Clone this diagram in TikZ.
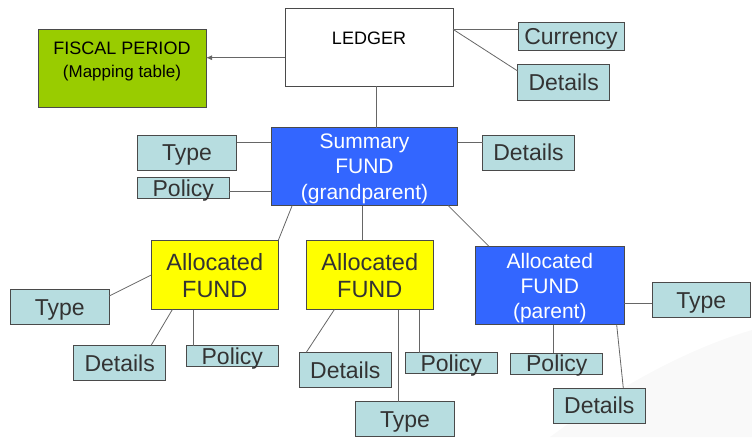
\documentclass[tikz,border=0pt]{standalone}
\usepackage{fontspec}
\setmainfont{Liberation Sans}
\usetikzlibrary{arrows.meta}
\definecolor{fundblue}{HTML}{3366FF}
\definecolor{fundyellow}{HTML}{FFFF00}
\definecolor{fiscalgreen}{HTML}{99CC00}
\definecolor{attrblue}{HTML}{B7DDE0}
\definecolor{edge}{HTML}{4A4A4A}
\tikzset{
  box/.style={draw=edge, line width=0.9pt, inner sep=0pt, outer sep=0pt},
  attr/.style={box, fill=attrblue, text=black!80, font=\fontsize{23}{23}\selectfont, text height=16.5pt, text depth=0pt, minimum width=92, minimum height=35},
  fund/.style={box, align=center, text depth=0pt},
  link/.style={draw=black!60, line width=0.8pt}
}
\begin{document}
\begin{tikzpicture}[x=1pt, y=-1pt]
      \useasboundingbox (0,0) rectangle (752,437);
      \fill[black!2.5] (550,437) .. controls (620,385) and (690,348) .. (752,330) -- (752,437) -- cycle;
      % top level
      \node[box, fill=white, minimum width=168, minimum height=78, label={[yshift=9pt, font=\fontsize{18}{18}\selectfont]center:LEDGER}] (ledger) at (369,47) {};
      \node[box, fill=fiscalgreen, minimum width=168, minimum height=78, label={[yshift=6.5pt, align=center, font=\fontsize{18}{23}\selectfont]center:FISCAL PERIOD\\{\fontsize{17}{23}\selectfont (Mapping table)}}] (fiscal) at (122,68) {};
      \node[attr, minimum width=106, minimum height=28] (currency) at (571,36) {Currency};
      \node[attr, minimum height=36] (ledgerdetails) at (563.7,82) {Details};
      % grandparent
      \node[fund, fill=fundblue, text=white, font=\fontsize{21}{25.5}\selectfont, minimum width=186, minimum height=78] (summary) at (364.5,166.5) {Summary\\FUND\\(grandparent)};
      \node[attr, minimum width=99] (sumtype) at (187,152.7) {Type};
      \node[attr, minimum height=21.7] (sumpolicy) at (183.3,188) {Policy};
      \node[attr] (sumdetails) at (528.5,152.7) {Details};
      % allocated funds
      \node[fund, fill=fundyellow, text=black!80, font=\fontsize{23.5}{27}\selectfont, minimum width=127, minimum height=69.3] (alloca) at (214.8,275) {Allocated\\FUND};
      \node[attr, minimum width=99] (atype) at (59.8,307.2) {Type};
      \node[attr] (adetails) at (119.7,363) {Details};
      \node[attr, minimum height=20.3] (apolicy) at (232.3,355.8) {Policy};
      \node[fund, fill=fundyellow, text=black!80, font=\fontsize{23.5}{27}\selectfont, minimum width=127, minimum height=69.3] (allocb) at (369.8,275) {Allocated\\FUND};
      \node[attr] (bdetails) at (345.3,369.8) {Details};
      \node[attr, minimum height=20.7] (bpolicy) at (451.2,363) {Policy};
      \node[attr, minimum width=98.7] (btype) at (405,419.2) {Type};
      \node[fund, fill=fundblue, text=white, font=\fontsize{21}{25}\selectfont, minimum width=148.3, minimum height=78.3] (parent) at (549.8,285.5) {Allocated\\FUND\\(parent)};
      \node[attr, minimum width=98.7] (ptype) at (701.3,300) {Type};
      \node[attr, minimum height=21] (ppolicy) at (556.8,363.5) {Policy};
      \node[attr] (pdetails) at (599.3,405.5) {Details};
      % connectors
      \draw[link, -{Latex[length=6pt, width=5pt]}] ([yshift=-10.7pt]ledger.west) -- ([yshift=-10.7pt]ledger.west -| fiscal.east);
      \draw[link] ([yshift=6.7pt]currency.west -| ledger.east) -- ([yshift=6.7pt]currency.west);
      \draw[link] ([yshift=6.7pt]currency.west -| ledger.east) -- ([yshift=11pt]ledgerdetails.west);
      \draw[link] ([xshift=7.7pt]ledger.south) -- ([xshift=7.7pt]ledger.south |- summary.north);
      \draw[link] ([yshift=10.4pt]sumtype.east) -- ([yshift=10.4pt]sumtype.east -| summary.west);
      \draw[link] ([yshift=-3.3pt]sumpolicy.east) -- ([yshift=-3.3pt]sumpolicy.east -| summary.west);
      \draw[link] ([yshift=10.4pt]sumdetails.west) -- ([yshift=10.4pt]sumdetails.west -| summary.east);
      \draw[link] ([xshift=20.7pt]summary.south west) -- (alloca.north east);
      \draw[link] ([xshift=-7pt]allocb.north) -- ([xshift=-7pt]allocb.north |- summary.south);
      \draw[link] ([xshift=-9.4pt]summary.south east) -- ([xshift=13.3pt]parent.north west);
      \draw[link] (alloca.west) -- ([yshift=11.2pt]atype.east);
      \draw[link] ([xshift=21pt]alloca.south west) -- ([xshift=-14.7pt]adetails.north east);
      \draw[link] ([xshift=7.4pt]apolicy.north west) -- ([xshift=7.4pt]apolicy.north west |- alloca.south);
      \draw[link] ([xshift=28pt]allocb.south west) -- ([xshift=7pt]bdetails.north west);
      \draw[link] ([xshift=14pt]bpolicy.north west) -- ([xshift=14pt]bpolicy.north west |- allocb.south);
      \draw[link] ([xshift=-6.7pt]btype.north) -- ([xshift=-6.7pt]btype.north |- allocb.south);
      \draw[link] ([yshift=-3.3pt]ptype.west) -- ([yshift=-3.3pt]ptype.west -| parent.east);
      \draw[link] ([xshift=-3.5pt]ppolicy.north) -- ([xshift=-3.5pt]ppolicy.north |- parent.south);
      \draw[link] ([xshift=-7.3pt]parent.south east) -- ([xshift=-22pt]pdetails.north east);
    \end{tikzpicture}
\end{document}
